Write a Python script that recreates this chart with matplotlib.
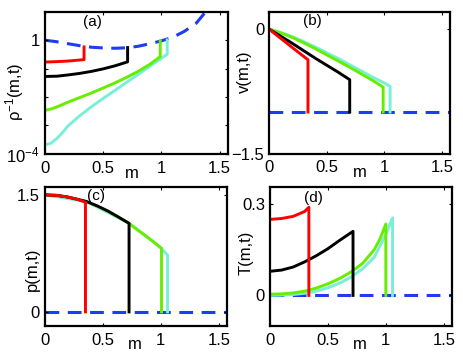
import numpy as np
import matplotlib
matplotlib.use('Agg')
import matplotlib.pyplot as plt

plt.rcParams['font.family'] = ['Liberation Sans', 'DejaVu Sans']
plt.rcParams['mathtext.fontset'] = 'custom'
plt.rcParams['mathtext.rm'] = 'Liberation Sans'
plt.rcParams['mathtext.it'] = 'Liberation Sans:italic'
plt.rcParams['mathtext.default'] = 'regular'

# colours of the four times
c_red = '#ff0000'
c_blk = '#000000'
c_grn = '#66ee00'
c_cyn = '#78f0d8'
c_dash = '#1e3cf0'

# ---- (a) specific volume rho^-1, log scale
a_dash_m = [0, 0.1, 0.2, 0.3, 0.4, 0.5, 0.6, 0.7, 0.8, 0.9, 1.0, 1.1, 1.2, 1.3, 1.38, 1.42]
a_dash_v = [1.0, 0.885, 0.75, 0.64, 0.565, 0.535, 0.52, 0.54, 0.61, 0.75, 0.945, 1.28, 2.08, 4.0, 10.0, 16.0]
a_red_m = [0, 0.1, 0.2, 0.336, 0.336]
a_red_v = [0.17, 0.176, 0.185, 0.207, 0.58]
a_blk_m = [0, 0.1, 0.2, 0.3, 0.4, 0.5, 0.6, 0.71, 0.71]
a_blk_v = [0.053, 0.054, 0.060, 0.068, 0.080, 0.098, 0.125, 0.173, 0.55]
a_grn_m = [0, 0.05, 0.1, 0.2, 0.3, 0.4, 0.5, 0.6, 0.7, 0.8, 0.9, 0.99, 0.99]
a_grn_v = [0.0034, 0.00376, 0.00443, 0.00665, 0.0096, 0.0139, 0.0208, 0.0313, 0.049, 0.080, 0.141, 0.265, 0.94]
a_cyn_m = [0, 0.05, 0.1, 0.15, 0.2, 0.3, 0.4, 0.5, 0.6, 0.7, 0.8, 0.9, 1.0, 1.05, 1.05]
a_cyn_v = [2.08e-4, 2.35e-4, 3.4e-4, 5.5e-4, 9.8e-4, 2.2e-3, 4.6e-3, 8.9e-3, 0.017, 0.0326, 0.0626, 0.12, 0.23, 0.32, 1.02]

# ---- (b) velocity
b_red_m = [0, 0.1, 0.2, 0.338, 0.338]
b_red_v = [0, -0.11, -0.22, -0.37, -1.0]
b_blk_m = [0, 0.1, 0.2, 0.3, 0.4, 0.5, 0.6, 0.70, 0.70]
b_blk_v = [0, -0.085, -0.17, -0.26, -0.35, -0.435, -0.52, -0.61, -1.0]
b_grn_m = [0, 0.1, 0.2, 0.3, 0.4, 0.5, 0.6, 0.7, 0.8, 0.9, 0.99, 0.99]
b_grn_v = [0, -0.045, -0.10, -0.165, -0.235, -0.31, -0.385, -0.46, -0.54, -0.62, -0.70, -1.0]
b_cyn_m = [0, 0.1, 0.2, 0.3, 0.4, 0.5, 0.6, 0.7, 0.8, 0.9, 1.0, 1.05, 1.05]
b_cyn_v = [0, -0.04, -0.09, -0.15, -0.215, -0.285, -0.355, -0.43, -0.505, -0.58, -0.65, -0.69, -1.0]

# ---- (c) pressure
c_red_m = [0, 0.1, 0.19, 0.28, 0.35, 0.35]
c_red_v = [1.5, 1.494, 1.474, 1.443, 1.405, 0]
c_blk_m = [0, 0.1, 0.19, 0.28, 0.36, 0.45, 0.54, 0.63, 0.726, 0.726]
c_blk_v = [1.5, 1.494, 1.474, 1.443, 1.414, 1.36, 1.295, 1.22, 1.135, 0]
c_grn_m = [0, 0.19, 0.36, 0.54, 0.726, 0.8, 0.87, 0.94, 1.006, 1.006]
c_grn_v = [1.5, 1.474, 1.414, 1.295, 1.135, 1.05, 0.974, 0.895, 0.815, 0]
c_cyn_m = [0, 0.36, 0.726, 0.9, 1.0, 1.058, 1.058]
c_cyn_v = [1.5, 1.414, 1.135, 0.94, 0.82, 0.73, 0]

# ---- (d) temperature
d_red_m = [0, 0.1, 0.2, 0.3, 0.336, 0.336]
d_red_v = [0.249, 0.252, 0.259, 0.275, 0.289, 0]
d_blk_m = [0, 0.1, 0.2, 0.3, 0.4, 0.5, 0.6, 0.717, 0.717]
d_blk_v = [0.079, 0.083, 0.093, 0.11, 0.13, 0.153, 0.18, 0.21, 0]
d_grn_m = [0, 0.1, 0.2, 0.3, 0.4, 0.5, 0.6, 0.7, 0.8, 0.9, 0.95, 1.0, 1.0]
d_grn_v = [0.004, 0.005, 0.008, 0.014, 0.024, 0.038, 0.055, 0.077, 0.105, 0.15, 0.185, 0.234, 0]
d_cyn_m = [0, 0.1, 0.2, 0.3, 0.4, 0.5, 0.6, 0.7, 0.8, 0.9, 1.0, 1.058, 1.058]
d_cyn_v = [0.0, 0.001, 0.003, 0.007, 0.014, 0.025, 0.04, 0.06, 0.087, 0.125, 0.2, 0.254, 0]

xt = [0, 0.5, 1, 1.5]
xtl = ['0', '0.5', '1', '1.5']
xmax = 1.57

fig = plt.figure(figsize=(4.63, 3.57), dpi=100)
ax_a = fig.add_axes([0.097, 0.569, 0.395, 0.398])
ax_b = fig.add_axes([0.581, 0.570, 0.391, 0.395])
ax_c = fig.add_axes([0.097, 0.087, 0.393, 0.389])
ax_d = fig.add_axes([0.583, 0.087, 0.393, 0.389])

lw = 2.1
dash = dict(color=c_dash, lw=2.2, dashes=(4.5, 2.8), zorder=1)


def style(ax, yl, ylc, mx, tag, tagpos):
    ax.set_xlim(0, xmax)
    ax.set_xticks(xt)
    ax.set_xticklabels(xtl)
    ax.tick_params(direction='in', length=2.5, width=0.8, top=True, right=True,
                   labelsize=12, pad=5)
    ax.tick_params(axis='y', pad=3.5)
    ax.tick_params(which='minor', length=0)
    for s in ax.spines.values():
        s.set_linewidth(1.6)
    ax.set_xlabel('m', fontsize=12)
    ax.xaxis.label.set_verticalalignment('center')
    ax.xaxis.set_label_coords(mx, -0.135)
    ax.set_ylabel(yl, fontsize=12)
    ax.yaxis.label.set_verticalalignment('center')
    ax.yaxis.set_label_coords(ylc[0], ylc[1])
    ax.text(tagpos[0], tagpos[1], tag, transform=ax.transAxes, fontsize=11,
            ha='center', va='center')


# (a)
ax_a.set_yscale('log')
ax_a.plot(a_dash_m, a_dash_v, **dash)
ax_a.plot(a_cyn_m, a_cyn_v, color=c_cyn, lw=lw)
ax_a.plot(a_grn_m, a_grn_v, color=c_grn, lw=lw)
ax_a.plot(a_blk_m, a_blk_v, color=c_blk, lw=lw)
ax_a.plot(a_red_m, a_red_v, color=c_red, lw=lw)
ax_a.set_ylim(1e-4, 10)
ax_a.set_yticks([1e-4, 1e-3, 1e-2, 1e-1, 1, 10])
ax_a.set_yticklabels(['$10^{-4}$', '', '', '', '1', ''])
style(ax_a, '\u03c1$^{-1}$(m,t)', (-0.167, 0.44), 0.475, '(a)', (0.26, 0.93))

# (b)
ax_b.axhline(-1, **dash)
ax_b.plot(b_cyn_m, b_cyn_v, color=c_cyn, lw=lw)
ax_b.plot(b_grn_m, b_grn_v, color=c_grn, lw=lw)
ax_b.plot(b_blk_m, b_blk_v, color=c_blk, lw=lw)
ax_b.plot(b_red_m, b_red_v, color=c_red, lw=lw)
ax_b.set_ylim(-1.5, 0.2)
ax_b.set_yticks([-1.5, 0])
ax_b.set_yticklabels(['\u22121.5', '0'])
style(ax_b, 'v(m,t)', (-0.135, 0.58), 0.503, '(b)', (0.24, 0.943))

# (c)
ax_c.axhline(0, **dash)
ax_c.plot(c_cyn_m, c_cyn_v, color=c_cyn, lw=lw)
ax_c.plot(c_grn_m, c_grn_v, color=c_grn, lw=lw)
ax_c.plot(c_blk_m, c_blk_v, color=c_blk, lw=lw)
ax_c.plot(c_red_m, c_red_v, color=c_red, lw=lw)
ax_c.set_ylim(-0.18, 1.6)
ax_c.set_yticks([0, 1.5])
ax_c.set_yticklabels(['0', '1.5'])
style(ax_c, 'p(m,t)', (-0.071, 0.41), 0.495, '(c)', (0.283, 0.935))

# (d)
ax_d.axhline(0, **dash)
ax_d.plot(d_cyn_m, d_cyn_v, color=c_cyn, lw=lw)
ax_d.plot(d_grn_m, d_grn_v, color=c_grn, lw=lw)
ax_d.plot(d_blk_m, d_blk_v, color=c_blk, lw=lw)
ax_d.plot(d_red_m, d_red_v, color=c_red, lw=lw)
ax_d.set_ylim(-0.1, 0.355)
ax_d.set_yticks([0, 0.3])
ax_d.set_yticklabels(['0', '0.3'])
style(ax_d, 'T(m,t)', (-0.132, 0.525), 0.495, '(d)', (0.24, 0.921))

fig.savefig('out.png', dpi=100)
